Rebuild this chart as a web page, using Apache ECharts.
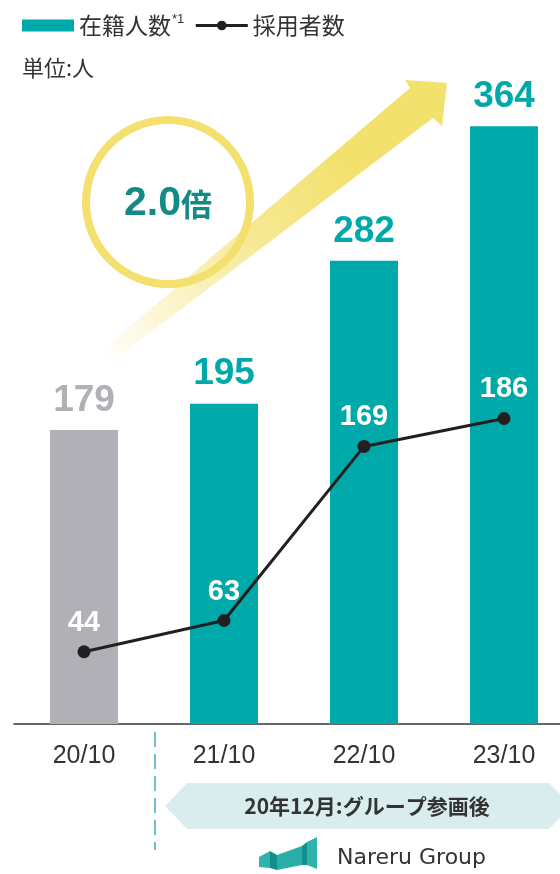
<!DOCTYPE html>
<html>
<head>
<meta charset="utf-8">
<script src="https://cdn.jsdelivr.net/npm/echarts@6/dist/echarts.min.js"></script>
<style>
  html, body { margin: 0; padding: 0; background: #fff; }
  #chart-box { width: 560px; height: 874px; }
</style>
</head>
<body>
<div id="chart-box"></div>
<script>
// data
const categories = ["20/10", "21/10", "22/10", "23/10"];
const headcount = [179, 195, 282, 364];
const hires = [44, 63, 169, 186];

const TEAL = "#00a9a9";
const GRAY = "#b1b0b6";
const FONT = "'Liberation Sans', 'Noto Sans CJK JP', sans-serif";
const JP = "'Noto Sans CJK JP', 'Liberation Sans', sans-serif";

const chart = echarts.init(document.getElementById("chart-box"));

const arrowFill = new echarts.graphic.LinearGradient(0, 1, 1, 0, [
  { offset: 0, color: "rgba(243,225,110,0)" },
  { offset: 0.45, color: "rgba(243,225,110,0.75)" },
  { offset: 0.7, color: "rgba(243,225,110,1)" },
  { offset: 1, color: "rgba(243,225,110,1)" },
]);

const option = {
  animation: false,
  legend: {
    left: 17,
    top: 8,
    itemWidth: 52,
    itemHeight: 12,
    itemGap: 10,
    data: [
      { name: "在籍人数", icon: "rect" },
      { name: "採用者数", lineStyle: { width: 3 } },
    ],
    formatter: function (name) {
      if (name === "在籍人数") return "{a|在籍人数}{s|*1}";
      return "{a|" + name + "}";
    },
    textStyle: {
      fontSize: 23,
      color: "#333",
      fontFamily: JP,
      rich: {
        a: { fontSize: 23, color: "#333", fontFamily: JP },
        s: { fontSize: 13, color: "#333", fontFamily: FONT, verticalAlign: "top", padding: [0, 0, 12, 1] },
      },
    },
  },
  grid: { left: 14, width: 560, top: 67, bottom: 150, outerBoundsMode: "none" },
  xAxis: {
    type: "category",
    data: categories,
    axisLine: { lineStyle: { color: "#333", width: 1.5 } },
    axisTick: { show: false },
    axisLabel: { fontSize: 25, color: "#333", fontFamily: FONT, margin: 20 },
  },
  yAxis: {
    type: "value",
    min: 0,
    max: 400,
    show: false,
    splitLine: { show: false },
  },
  series: [
    {
      name: "在籍人数",
      type: "bar",
      barWidth: 68,
      itemStyle: { color: TEAL },
      data: headcount.map((v, i) => ({
        value: v,
        itemStyle: { color: i === 0 ? GRAY : TEAL },
        label: { color: i === 0 ? GRAY : TEAL },
      })),
      label: {
        show: true,
        position: "top",
        distance: 11,
        fontSize: 37,
        fontWeight: "bold",
        fontFamily: FONT,
      },
      z: 3,
    },
    {
      name: "採用者数",
      type: "line",
      data: hires,
      symbol: "circle",
      symbolSize: 13,
      itemStyle: { color: "#231f20" },
      lineStyle: { color: "#231f20", width: 3 },
      label: {
        show: true,
        position: "top",
        distance: 8,
        fontSize: 29,
        fontWeight: "bold",
        color: "#fff",
        fontFamily: FONT,
      },
      z: 5,
    },
  ],
  graphic: [
    {
      type: "text",
      left: 22,
      top: 57,
      style: { text: "単位:人", fill: "#333", font: "22px " + JP },
    },
    // circle
    {
      type: "circle",
      shape: { cx: 168, cy: 202, r: 82 },
      style: { fill: "#fff", stroke: "#f3e06e", lineWidth: 8 },
      z: 1,
    },
    {
      type: "text",
      x: 168,
      y: 204,
      style: {
        text: "{a|2.0}{b|倍}",
        align: "center",
        verticalAlign: "middle",
        rich: {
          a: { fontSize: 41, fontWeight: "bold", fill: "#138a86", fontFamily: FONT },
          b: { fontSize: 31, fontWeight: "bold", fill: "#138a86", fontFamily: JP },
        },
      },
      z: 2,
    },
    // arrow
    {
      type: "polygon",
      shape: {
        points: [
          [100, 352], [410, 88], [405, 80], [447, 83],
          [442, 126], [433, 118], [114, 360],
        ],
      },
      style: { fill: arrowFill },
      z: 2,
    },
    // dashed divider
    {
      type: "line",
      shape: { x1: 155, y1: 732, x2: 155, y2: 850 },
      style: { stroke: "#6fc0c8", lineWidth: 2, lineDash: [15, 7] },
    },
    // banner
    {
      type: "polygon",
      shape: {
        points: [[165, 806], [187, 783], [549, 783], [572, 806], [549, 829], [187, 829]],
      },
      style: { fill: "#daedee" },
    },
    {
      type: "text",
      x: 367,
      y: 806,
      style: {
        text: "20年12月:グループ参画後",
        align: "center",
        verticalAlign: "middle",
        fill: "#333",
        font: "bold 21px " + JP,
      },
      z: 3,
    },
    // logo
    {
      type: "group",
      children: [
        { type: "polygon", shape: { points: [[259, 857], [270, 851], [270, 868], [259, 867]] }, style: { fill: "#2fb3ac" } },
        { type: "polygon", shape: { points: [[270, 851], [277, 855], [277, 870], [270, 868]] }, style: { fill: "#10908a" } },
        { type: "polygon", shape: { points: [[277, 855], [302, 846], [302, 865], [277, 870]] }, style: { fill: "#29afa8" } },
        { type: "polygon", shape: { points: [[302, 846], [307, 842], [307, 865], [302, 865]] }, style: { fill: "#10908a" } },
        { type: "polygon", shape: { points: [[307, 842], [317, 837], [317, 869], [307, 865]] }, style: { fill: "#2fb3ac" } },
      ],
    },
    {
      type: "text",
      left: 337,
      top: 847,
      style: { text: "Nareru Group", font: "22px 'DejaVu Sans', sans-serif", fill: "#333" },
    },
  ],
};

chart.setOption(option);
</script>
</body>
</html>
